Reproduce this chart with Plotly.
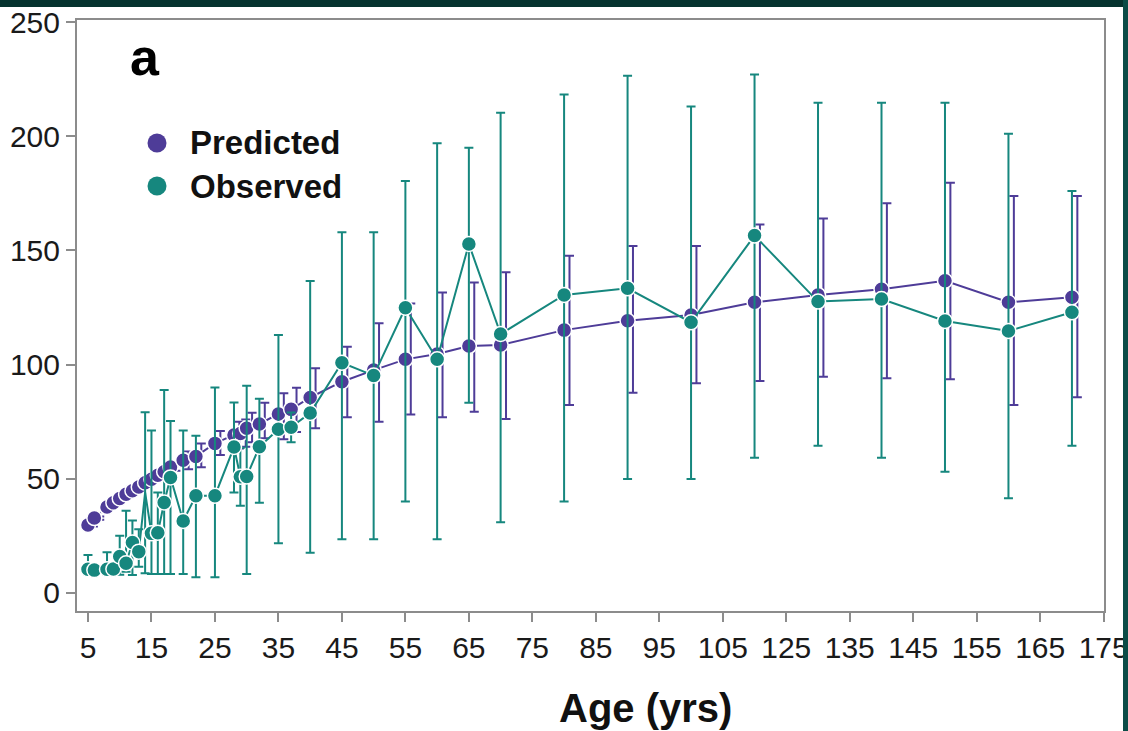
import numpy as np
import plotly.graph_objects as go

# ---------------- data ----------------
tick_vals = [5, 15, 25, 35, 45, 55, 65, 75, 85, 95, 105, 115, 125, 135, 145, 155, 165]
tick_text = ["5", "15", "25", "35", "45", "55", "65", "75", "85", "95", "105",
             "125", "135", "145", "155", "165", "175"]
y_ticks = [0, 50, 100, 150, 200, 250]

pred_age = [5, 6, 8, 9, 10, 11, 12, 13, 14, 15, 16, 17, 18, 20, 22, 25, 28, 29, 30, 32, 35, 37, 40,
            45, 50, 55, 60, 65, 70, 80, 90, 100, 110, 120, 130, 140, 150, 160]
pred_val = [29.8, 32.8, 37.6, 39.5, 41.4, 43.2, 44.8, 46.4, 48.3, 49.8, 51.5, 53.1, 55.2, 58.1, 59.8,
            65.5, 69.2, 69.8, 72.1, 74.0, 78.4, 80.4, 85.6, 92.5, 97.6, 102.3, 104.6, 108.1, 108.6,
            115.1, 119.2, 121.7, 127.3, 130.5, 133.0, 136.7, 127.3, 129.5]
pred_hi = [30.5, 33.5, 38.3, 40.2, 42.1, 43.9, 45.5, 47.1, 49.0, 50.5, 52.2, 53.8, 56.5, 62.0, 65.5,
           70.9, 75.0, 76.0, 78.9, 83.3, 87.4, 89.9, 98.4, 107.8, 118.1, 126.8, 131.6, 135.9, 140.4,
           147.7, 151.9, 151.9, 161.4, 164.0, 170.6, 179.6, 173.8, 173.8]
pred_lo = [29.1, 32.1, 36.9, 38.8, 40.7, 42.5, 44.1, 45.7, 47.6, 49.1, 50.8, 52.4, 53.5, 54.2, 55.0,
           60.4, 63.3, 64.0, 66.0, 67.7, 67.3, 70.5, 72.1, 76.9, 75.0, 78.2, 76.9, 79.4, 76.2,
           82.3, 87.7, 91.8, 92.8, 94.7, 94.0, 93.6, 82.3, 85.7]

obs_age = [5, 6, 8, 9, 10, 11, 12, 13, 14, 15, 16, 17, 18, 20, 22, 25, 28, 29, 30, 32, 35, 37, 40,
           45, 50, 55, 60, 65, 70, 80, 90, 100, 110, 120, 130, 140, 150, 160]
obs_val = [10.4, 10.0, 10.4, 10.5, 16.0, 13.0, 22.1, 18.1, 44.0, 26.1, 26.4, 39.6, 50.6, 31.5, 42.6,
           42.6, 63.9, 50.9, 51.0, 64.0, 71.7, 72.6, 78.8, 100.8, 95.2, 124.9, 102.3, 152.8, 113.4,
           130.5, 133.4, 118.5, 156.5, 127.6, 128.7, 119.1, 114.7, 122.9]
obs_hi = [16.6, 10.0, 17.8, 10.5, 25.1, 36.0, 31.7, 27.9, 79.1, 71.1, 44.0, 88.9, 75.3, 71.1, 68.8,
          90.0, 83.4, 63.6, 90.7, 85.0, 113.0, 79.0, 136.6, 158.0, 158.0, 180.4, 196.9, 195.0, 210.3,
          218.3, 226.5, 213.0, 227.0, 214.7, 214.7, 214.7, 201.1, 176.0]
obs_lo = [8.0, 10.0, 8.0, 10.5, 8.0, 9.3, 7.9, 11.5, 8.6, 8.3, 8.3, 8.3, 8.3, 8.3, 6.9,
          6.9, 44.0, 38.2, 8.3, 39.5, 21.8, 66.0, 17.6, 23.5, 23.5, 40.0, 23.5, 83.3, 31.0,
          40.0, 49.9, 49.9, 59.2, 64.5, 59.2, 53.1, 41.5, 64.5]
obs_hidden_ages = [14]   # observed point not visible in the source (covered)

# ---------------- styling ----------------
PURPLE = "#4e3c98"
TEAL = "#16877e"
GREY = "#8c8c8c"
FONT = "Liberation Sans, Arial, sans-serif"

W, H = 1128, 731
L, R, T, B = 77, 24, 20, 120
PW, PH = W - L - R, H - T - B


def px_x(p):
    return (p - L) / PW


def px_y(p):
    return (H - B - p) / PH


pv = np.array(pred_val)
ov = np.array(obs_val)
bar_shift = 0.85  # predicted error bars drawn slightly to the right of the points
obs_sizes = [0 if a in obs_hidden_ages else 15 for a in obs_age]

fig = go.Figure()

# predicted error bars (offset)
fig.add_trace(go.Scatter(
    x=np.array(pred_age) + bar_shift, y=pv, mode="markers",
    marker=dict(size=2, color="rgba(0,0,0,0)"),
    error_y=dict(type="data", symmetric=False,
                 array=np.array(pred_hi) - pv, arrayminus=pv - np.array(pred_lo),
                 color=PURPLE, thickness=2, width=4.5),
    showlegend=False, hoverinfo="skip"))

# predicted line + markers
fig.add_trace(go.Scatter(
    x=pred_age, y=pv, mode="lines+markers", name="Predicted",
    line=dict(color=PURPLE, width=2),
    marker=dict(color=PURPLE, size=15, opacity=1, line=dict(color="white", width=1.5)),
    showlegend=False))

# observed with error bars
fig.add_trace(go.Scatter(
    x=obs_age, y=ov, mode="lines+markers", name="Observed",
    line=dict(color=TEAL, width=2),
    marker=dict(color=TEAL, size=obs_sizes, opacity=1, line=dict(color="white", width=1.5)),
    error_y=dict(type="data", symmetric=False,
                 array=np.array(obs_hi) - ov, arrayminus=ov - np.array(obs_lo),
                 color=TEAL, thickness=2, width=4.5),
    showlegend=False))

axis_common = dict(showline=True, linecolor=GREY, linewidth=2, mirror=True,
                   ticks="outside", tickcolor=GREY, tickwidth=2, ticklen=9,
                   showgrid=False, zeroline=False, automargin=False,
                   ticklabeloverflow="allow",
                   tickfont=dict(family=FONT, size=30, color="#1a1a1a"))

fig.update_xaxes(range=[3.27, 165.05], tickmode="array", tickvals=tick_vals,
                 ticktext=tick_text, **axis_common)
fig.update_yaxes(range=[-7.9, 250.9], tickmode="array", tickvals=y_ticks, **axis_common)

shapes = []
# legend circles
for ypx, col in [(143, PURPLE), (186, TEAL)]:
    shapes.append(dict(type="circle", xref="paper", yref="paper",
                       xsizemode="pixel", ysizemode="pixel",
                       xanchor=px_x(157), yanchor=px_y(ypx),
                       x0=-9.5, x1=9.5, y0=-9.5, y1=9.5,
                       fillcolor=col, line=dict(color=col, width=0)))
# dark page edges
shapes.append(dict(type="rect", xref="paper", yref="paper",
                   x0=px_x(-5), x1=px_x(W + 5), y0=px_y(7), y1=px_y(-5),
                   fillcolor="#06332f", line=dict(width=0), layer="above"))
shapes.append(dict(type="rect", xref="paper", yref="paper",
                   x0=px_x(1123), x1=px_x(W + 5), y0=px_y(H + 5), y1=px_y(-5),
                   fillcolor="#0b4c47", line=dict(width=0), layer="above"))

annotations = [
    dict(text="<b>Predicted</b>", xref="paper", yref="paper", x=px_x(188), y=px_y(143),
         xanchor="left", yanchor="middle", showarrow=False,
         font=dict(family=FONT, size=33, color="#111")),
    dict(text="<b>Observed</b>", xref="paper", yref="paper", x=px_x(188), y=px_y(186),
         xanchor="left", yanchor="middle", showarrow=False,
         font=dict(family=FONT, size=33, color="#111")),
    dict(text="<b>a</b>", xref="paper", yref="paper", x=px_x(145), y=px_y(57),
         xanchor="center", yanchor="middle", showarrow=False,
         font=dict(family=FONT, size=52, color="#000")),
    dict(text="<b>Age (yrs)</b>", xref="paper", yref="paper", x=px_x(645), y=px_y(708),
         xanchor="center", yanchor="middle", showarrow=False,
         font=dict(family=FONT, size=40, color="#111")),
]

fig.update_layout(width=W, height=H, margin=dict(l=L, r=R, t=T, b=B),
                  paper_bgcolor="white", plot_bgcolor="white",
                  shapes=shapes, annotations=annotations, showlegend=False)

fig.write_html("out.html")
